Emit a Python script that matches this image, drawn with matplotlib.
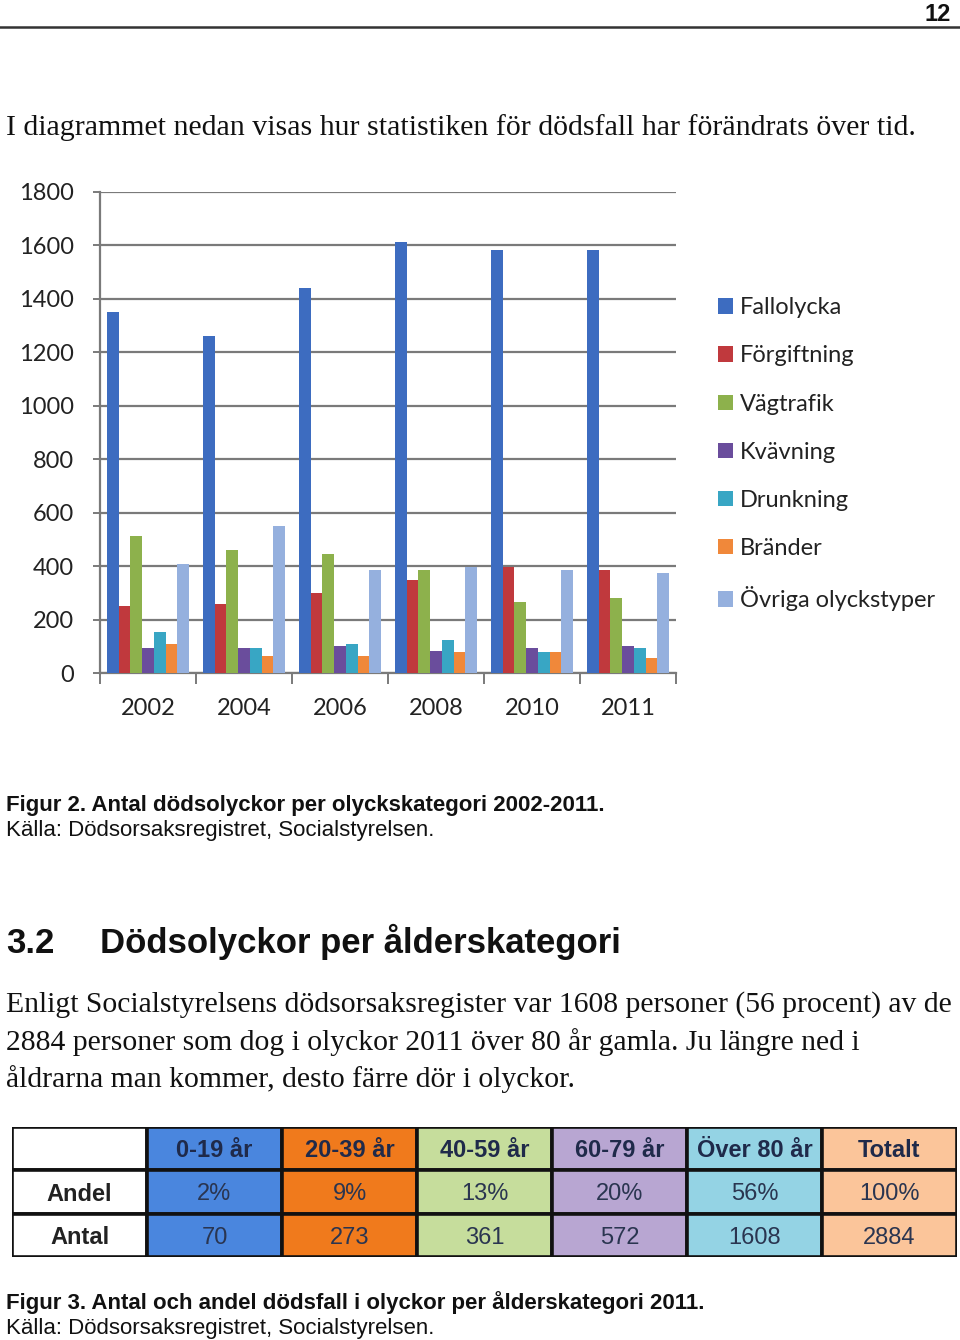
import matplotlib
matplotlib.use("Agg")
import matplotlib.pyplot as plt
import numpy as np
from matplotlib.patches import Rectangle

# ---------------- data ----------------
years = ["2002", "2004", "2006", "2008", "2010", "2011"]
categories = ["Fallolycka", "Förgiftning", "Vägtrafik", "Kvävning",
              "Drunkning", "Bränder", "Övriga olyckstyper"]
fallolycka  = [1350, 1262, 1442, 1613, 1584, 1584]
forgiftning = [251, 258, 300, 347, 398, 385]
vagtrafik   = [511, 462, 445, 385, 264, 280]
kvavning    = [93, 93, 101, 84, 93, 101]
drunkning   = [153, 93, 108, 124, 77, 93]
brander     = [107, 64, 64, 77, 77, 57]
ovriga      = [407, 551, 385, 398, 385, 374]
series = [fallolycka, forgiftning, vagtrafik, kvavning, drunkning, brander, ovriga]
bar_colors = ["#3d6cc0", "#c0393d", "#8db14c", "#6a4d9c", "#38a6c4", "#f0883a", "#95b0de"]
yticks = [0, 200, 400, 600, 800, 1000, 1200, 1400, 1600, 1800]

age_groups = ["0-19 år", "20-39 år", "40-59 år", "60-79 år", "Över 80 år", "Totalt"]
andel = ["2%", "9%", "13%", "20%", "56%", "100%"]
antal = ["70", "273", "361", "572", "1608", "2884"]
row_labels = ["Andel", "Antal"]
table_colors = ["#4a86de", "#f07a1c", "#c6dd9c", "#b8a6d2", "#94d3e4", "#fbc59a"]

# ---------------- figure ----------------
W, H = 960, 1340
fig = plt.figure(figsize=(W / 100, H / 100), dpi=100)
fig.patch.set_facecolor("white")

SERIF = ["Liberation Serif", "DejaVu Serif"]
SANS = ["Liberation Sans", "DejaVu Sans"]
CHART = ["Lato", "DejaVu Sans"]
NARROW = ["Liberation Sans Narrow", "Liberation Sans", "DejaVu Sans"]


def ptext(x, y, s, **kw):
    kw.setdefault("va", "baseline")
    return fig.text(x / W, 1 - y / H, s, **kw)


# header
ptext(951, 21, "12", ha="right", fontsize=17, fontweight="bold", family=SANS, color="#111111")
fig.add_artist(plt.Line2D([0, 1], [1 - 27 / H, 1 - 27 / H], color="#333333", lw=1.8))

ptext(6, 135, "I diagrammet nedan visas hur statistiken för dödsfall har förändrats över tid.",
      fontsize=21.5, family=SERIF, color="#111111")

# ---------------- bar chart ----------------
ax = fig.add_axes([100 / W, 1 - 673 / H, 576 / W, (673 - 192) / H])
n = len(categories)
bw = 0.122
x = np.arange(len(years))
for i, (vals, c, lab) in enumerate(zip(series, bar_colors, categories)):
    ax.bar(x + (i - (n - 1) / 2) * bw, vals, width=bw, color=c, label=lab,
           zorder=3, linewidth=0)
ax.set_xlim(-0.5, len(years) - 0.5)
ax.set_ylim(0, 1800)
ax.set_yticks(yticks)
ax.set_yticklabels([str(v) for v in yticks], family=CHART, fontsize=17, color="#222222")
ax.yaxis.grid(True, color="#7a7a7a", lw=1.6, zorder=0)
ax.set_axisbelow(True)
ax.tick_params(axis="y", length=5, width=1.4, color="#7a7a7a", pad=14)
ax.set_xticks(np.arange(len(years) + 1) - 0.5)
ax.set_xticklabels([])
ax.tick_params(axis="x", length=8, width=1.4, color="#7a7a7a")
for xi, yr in zip(x, years):
    ax.text(xi, -0.073, yr, transform=ax.get_xaxis_transform(), ha="center", va="center",
            family=CHART, fontsize=17, color="#222222")
for s in ["top", "right"]:
    ax.spines[s].set_visible(False)
ax.spines["left"].set_color("#7a7a7a")
ax.spines["left"].set_linewidth(1.6)
ax.spines["bottom"].set_color("#7a7a7a")
ax.spines["bottom"].set_linewidth(1.6)

leg = fig.legend(loc="upper left", bbox_to_anchor=(697 / W, 1 - 276 / H), frameon=False,
                 prop={"family": CHART, "size": 17}, handlelength=0.62, handleheight=0.62,
                 handletextpad=0.3, labelspacing=1.15)
for t in leg.get_texts():
    t.set_color("#222222")

# captions
ptext(6, 811, "Figur 2. Antal dödsolyckor per olyckskategori 2002-2011.",
      fontsize=16, fontweight="bold", family=SANS, color="#111111")
ptext(6, 836, "Källa: Dödsorsaksregistret, Socialstyrelsen.",
      fontsize=16, family=SANS, color="#111111")

ptext(6, 953, "3.2", fontsize=25, fontweight="bold", family=SANS, color="#111111")
ptext(100, 953, "Dödsolyckor per ålderskategori", fontsize=25, fontweight="bold",
      family=SANS, color="#111111")

para = ["Enligt Socialstyrelsens dödsorsaksregister var 1608 personer (56 procent) av de",
        "2884 personer som dog i olyckor 2011 över 80 år gamla. Ju längre ned i",
        "åldrarna man kommer, desto färre dör i olyckor."]
for k, line in enumerate(para):
    ptext(6, 1012 + 37.5 * k, line, fontsize=21.3, family=SERIF, color="#111111")

# ---------------- table ----------------
tax = fig.add_axes([12 / W, 1 - 1257 / H, (957 - 12) / W, (1257 - 1127) / H])
tax.set_xlim(0, 7)
tax.set_ylim(3, 0)
tax.axis("off")
rows = [age_groups, andel, antal]
for r in range(3):
    for c in range(7):
        fc = "white" if c == 0 else table_colors[c - 1]
        tax.add_patch(Rectangle((c, r), 1, 1, facecolor=fc, edgecolor="#111111", lw=2.6))
        if c == 0:
            if r > 0:
                tax.text(0.5, r + 0.55, row_labels[r - 1], ha="center", va="center",
                         family=NARROW, fontsize=17, fontweight="bold", color="#222222")
        else:
            txt = rows[r][c - 1]
            tax.text(c + 0.5, r + 0.55, txt, ha="center", va="center", family=NARROW,
                     fontsize=17, fontweight="bold" if r == 0 else "normal",
                     color="#1f2a4a" if r == 0 else "#2a3550")

ptext(6, 1309, "Figur 3. Antal och andel dödsfall i olyckor per ålderskategori 2011.",
      fontsize=16, fontweight="bold", family=SANS, color="#111111")
ptext(6, 1334, "Källa: Dödsorsaksregistret, Socialstyrelsen.",
      fontsize=16, family=SANS, color="#111111")

fig.savefig("out.png", dpi=100, facecolor="white")
